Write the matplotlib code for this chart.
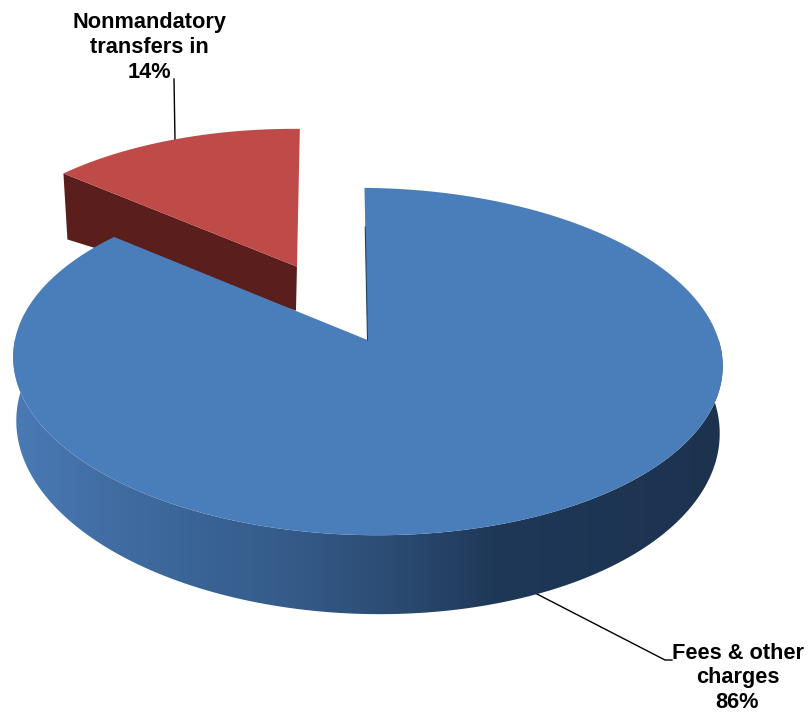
import numpy as np
import matplotlib
matplotlib.use("Agg")
import matplotlib.pyplot as plt
from matplotlib.colors import LinearSegmentedColormap
from matplotlib.patches import Polygon

# 数据
labels = ["Fees & other\ncharges", "Nonmandatory\ntransfers in"]
shares = [86, 14]

plt.rcParams["font.family"] = ["Liberation Sans", "DejaVu Sans"]

W, H = 808, 713
fig = plt.figure(figsize=(W / 100, H / 100), dpi=100)
ax = fig.add_axes([0, 0, 1, 1])
ax.set_xlim(0, W)
ax.set_ylim(H, 0)
ax.axis("off")


# perspective of the disc: x, y in the unit circle, y grows away from the viewer
def project(x, y, cx=367.5, cy=340.0, bx=352.0, by=171.0, k=0.124, lean=0.02, tilt=0.008):
    d = 1 + k * y
    up = by * y / d
    across = bx * x / d
    return cx + across - lean * up, cy - up + tilt * across


def rim(deg):
    a = np.radians(deg)
    return np.sin(a), np.cos(a)


def floor(x, y):
    return project(x, y, cx=368.0, cy=404.0, bx=349.0, by=184.0, lean=0.0, tilt=0.018)


def red_top(x, y):
    return project(x, y, cx=365.5, cy=337.0, bx=346.0, lean=0.03)


blue_end = 360 * shares[0] / sum(shares)

# red slice, pulled out along its middle angle
mid = (blue_end + 360) / 2
off_x, off_y = 0.475 * np.sin(np.radians(mid)), 0.475 * np.cos(np.radians(mid))
arc = np.linspace(blue_end, 360, 60)
rx, ry = rim(arc)
top_x, top_y = red_top(np.r_[off_x, off_x + rx], np.r_[off_y, off_y + ry])
ax.fill(top_x, top_y, color="#BE4B48", lw=0, zorder=3)

# front wall of the red slice, taller at the rim end
left_x, left_y = red_top(off_x + rx[0], off_y + ry[0])
apex_x, apex_y = red_top(off_x, off_y)
ax.fill([left_x, apex_x, apex_x - 1, left_x + 4],
        [left_y, apex_y, apex_y + 44, left_y + 66],
        color="#5A1F1C", lw=0, zorder=2)

# leader lines
ax.plot([174, 175], [79, 141], color="black", lw=1.0, zorder=1)
ax.plot([535, 665, 672], [593, 660, 660], color="black", lw=1.0, zorder=1)

# blue wall, shaded from left to right and clipped to the rim outline
wall_cmap = LinearSegmentedColormap.from_list(
    "wall",
    [(0.0, "#4A7AB5"), (0.12, "#426EA5"), (0.26, "#3A6496"), (0.40, "#345A88"),
     (0.55, "#2A4A70"), (0.68, "#1F3858"), (1.0, "#1C3350")],
)
deg = np.linspace(70, 290, 441)
sx, sy = rim(deg)
up_x, up_y = project(sx, sy)
lo_x, lo_y = floor(sx, sy)
outline = np.c_[np.r_[up_x, lo_x[::-1]], np.r_[up_y, lo_y[::-1]]]
clip = Polygon(outline, transform=ax.transData, fc="none", ec="none")
ax.add_patch(clip)
shade = ax.imshow(np.linspace(0, 1, 710)[None, :], cmap=wall_cmap, aspect="auto",
                  extent=(13, 723, 625, 340), zorder=4, interpolation="bilinear")
shade.set_clip_path(clip)
ax.set_xlim(0, W)
ax.set_ylim(H, 0)

# blue top face
arc = np.linspace(0, blue_end, 400)
bx, by = rim(arc)
face_x, face_y = project(np.r_[0, bx], np.r_[0, by])
ax.fill(face_x, face_y, color="#4A7EBB", lw=0, zorder=5)

# thin dark inner wall along the cut
cut_x, cut_y = project(np.array([0, 0]), np.array([0, 0.72]))
ax.plot(cut_x, cut_y, color="#24405F", lw=0.8, zorder=6)

# data labels
txt = dict(ha="center", va="center", fontsize=15.7, fontweight="bold",
           color="black", linespacing=1.23, zorder=7)
ax.text(149.5, 47.5, f"{labels[1]}\n{shares[1]}%", **txt)
ax.text(737.5, 678, f"{labels[0]}\n{shares[0]}%", **txt)

fig.savefig("out.png", dpi=100, facecolor="white")
